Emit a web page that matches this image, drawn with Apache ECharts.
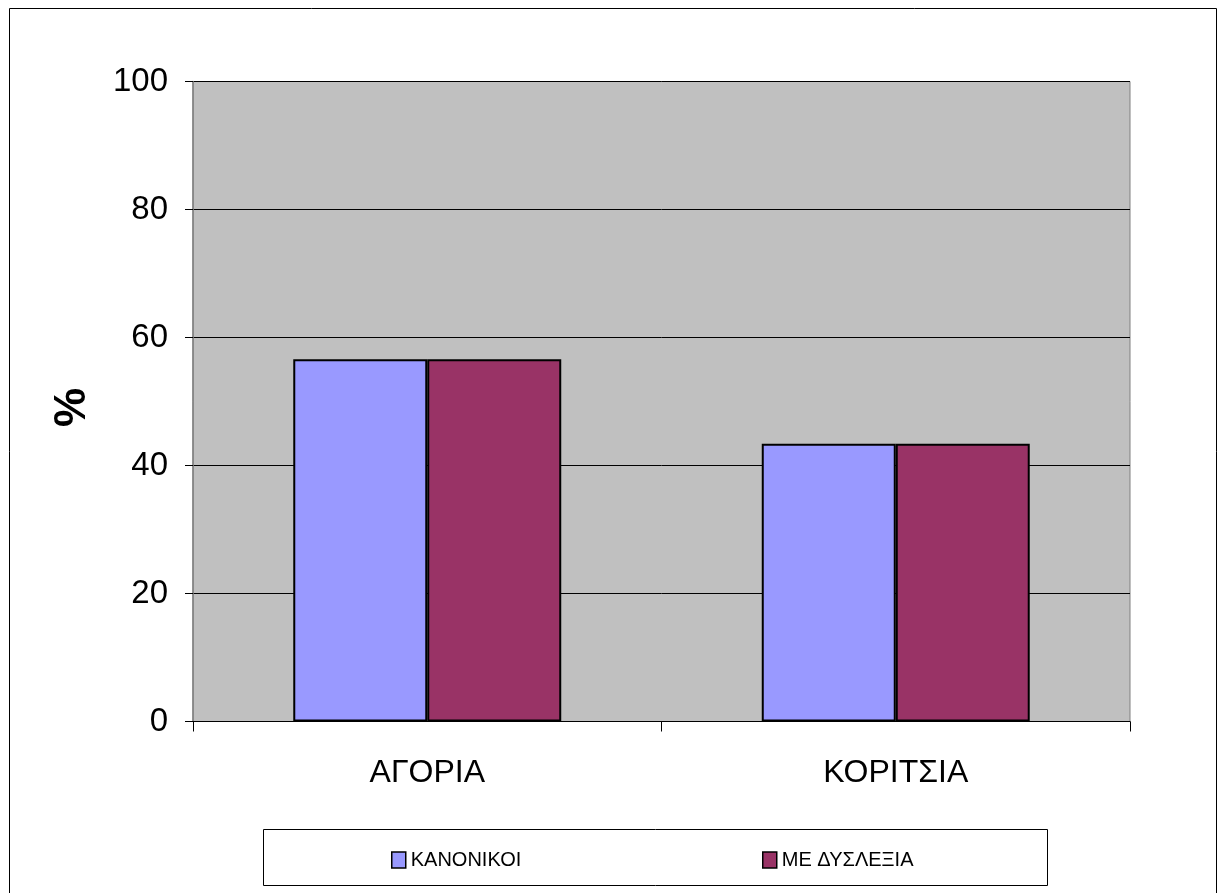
<!DOCTYPE html>
<html>
<head>
<meta charset="utf-8">
<script src="https://cdn.jsdelivr.net/npm/echarts@6/dist/echarts.min.js"></script>
<style>
  html, body { margin: 0; padding: 0; background: #fff; }
  #main { width: 1218px; height: 893px; }
</style>
</head>
<body>
<div id="main"></div>
<script>
// data
const categories = ['ΑΓΟΡΙΑ', 'ΚΟΡΙΤΣΙΑ']
const normal = [56.6, 43.4]     // ΚΑΝΟΝΙΚΟΙ
const dyslexia = [56.6, 43.4]   // ΜΕ ΔΥΣΛΕΞΙΑ
const yTicks = [0, 20, 40, 60, 80, 100]

const font = 'Liberation Sans, Arial, sans-serif'

const chart = echarts.init(document.getElementById('main'))

// two single-item legends so each sits where it does in the original
const legendBase = {
  top: 845, z: 5,
  icon: 'rect',
  itemWidth: 14, itemHeight: 16, itemGap: 0,
  textStyle: { fontSize: 20, color: '#000', fontFamily: font },
  itemStyle: { borderColor: '#000', borderWidth: 1.5 }
}

const option = {
  animation: false,
  textStyle: { fontFamily: font },
  graphic: [
    {
      type: 'rect',
      shape: { x: 9.5, y: 8.5, width: 1207, height: 900 },
      style: { fill: 'none', stroke: '#000', lineWidth: 1 },
      z: -1
    },
    {
      type: 'rect',
      shape: { x: 263.5, y: 829.5, width: 784, height: 56 },
      style: { fill: '#fff', stroke: '#000', lineWidth: 1 },
      z: 0
    }
  ],
  grid: { left: 193, top: 81.5, right: 88, bottom: 171.5, containLabel: false,
    show: true, backgroundColor: '#C0C0C0', borderColor: '#808080', borderWidth: 1 },
  legend: [
    Object.assign({ data: ['ΚΑΝΟΝΙΚΟΙ'], left: 386 }, legendBase),
    Object.assign({ data: ['ΜΕ ΔΥΣΛΕΞΙΑ'], left: 757 }, legendBase)
  ],
  xAxis: {
    type: 'category',
    data: categories,
    axisLine: { lineStyle: { color: '#000', width: 1 } },
    axisTick: { show: true, length: 10, lineStyle: { color: '#000' } },
    axisLabel: { fontSize: 32, color: '#000', margin: 36 }
  },
  yAxis: {
    type: 'value',
    min: yTicks[0],
    max: yTicks[yTicks.length - 1],
    interval: 20,
    name: '%',
    nameLocation: 'middle',
    nameRotate: 90,
    nameGap: 98,
    nameTextStyle: { fontSize: 44, fontWeight: 'bold', color: '#000', padding: [0, 12, 0, 0] },
    axisLine: { show: true, lineStyle: { color: '#808080', width: 1.5 } },
    axisTick: { show: true, inside: false, length: 8, lineStyle: { color: '#000' } },
    axisLabel: { fontSize: 33, color: '#000', margin: 25 },
    splitLine: { lineStyle: { color: '#000', width: 1 } }
  },
  series: [
    {
      name: 'ΚΑΝΟΝΙΚΟΙ',
      type: 'bar',
      data: normal,
      barGap: '0%',
      barCategoryGap: '42.8%',
      itemStyle: { color: '#9999FF', borderColor: '#000', borderWidth: 2 }
    },
    {
      name: 'ΜΕ ΔΥΣΛΕΞΙΑ',
      type: 'bar',
      data: dyslexia,
      itemStyle: { color: '#993366', borderColor: '#000', borderWidth: 2 }
    }
  ]
}

option && chart.setOption(option)
</script>
</body>
</html>
